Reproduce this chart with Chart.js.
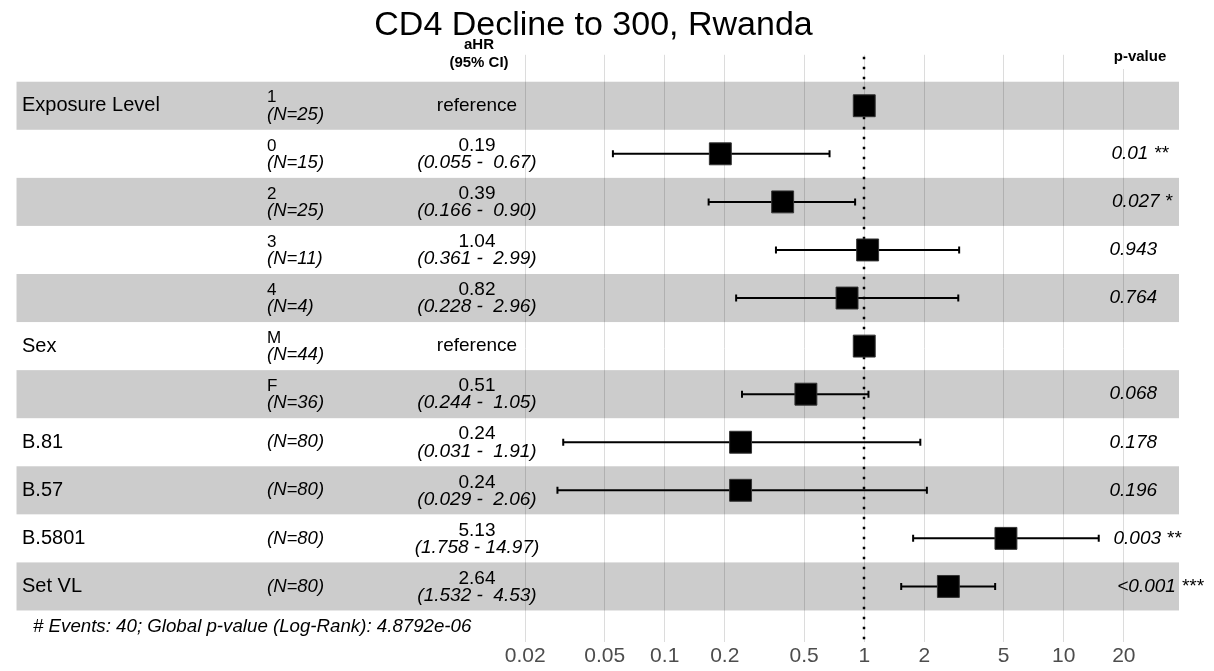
<!DOCTYPE html>
<html>
<head>
<meta charset="utf-8">
<title>CD4 Decline to 300, Rwanda</title>
<script src="https://cdn.jsdelivr.net/npm/chart.js@4.4.1/dist/chart.umd.min.js"></script>
<style>
  html, body { margin: 0; padding: 0; background: #fff; }
</style>
</head>
<body>
<canvas id="forest" width="1214" height="671"></canvas>
<script>
// rows of the forest plot, top to bottom
const variables = ["Exposure Level", "", "", "", "", "Sex", "", "B.81", "B.57", "B.5801", "Set VL"];
const levels = ["1", "0", "2", "3", "4", "M", "F", "", "", "", ""];
const counts = [25, 15, 25, 11, 4, 44, 36, 80, 80, 80, 80];
const hazardRatios = [1, 0.19, 0.39, 1.04, 0.82, 1, 0.51, 0.24, 0.24, 5.13, 2.64];
const ciLower = [null, 0.055, 0.166, 0.361, 0.228, null, 0.244, 0.031, 0.029, 1.758, 1.532];
const ciUpper = [null, 0.67, 0.90, 2.99, 2.96, null, 1.05, 1.91, 2.06, 14.97, 4.53];
const ciLabels = ["", "(0.055 -  0.67)", "(0.166 -  0.90)", "(0.361 -  2.99)", "(0.228 -  2.96)", "",
                  "(0.244 -  1.05)", "(0.031 -  1.91)", "(0.029 -  2.06)", "(1.758 - 14.97)", "(1.532 -  4.53)"];
const pValues = ["", "0.01 **", "0.027 *", "0.943", "0.764", "", "0.068", "0.178", "0.196", "0.003 **", "<0.001 ***"];
const tickValues = [0.02, 0.05, 0.1, 0.2, 0.5, 1, 2, 5, 10, 20];
const footnote = "# Events: 40; Global p-value (Log-Rank): 4.8792e-06";

const FONT = "'Liberation Sans', Arial, Helvetica, sans-serif";
const NARROW = "'Liberation Sans Narrow', 'Arial Narrow', 'Liberation Sans', sans-serif";
Chart.defaults.font.family = FONT;

// text columns (canvas pixels)
const colVar = 22;
const colLevel = 267;
const colEstimate = 477;
const colP = 1100;

const nRows = variables.length;

const forestPlugin = {
    id: 'forest',
    beforeDatasetsDraw(chart) {
        const { ctx, chartArea: a, scales: { x, y } } = chart;
        ctx.save();

        // alternating grey bands (semi transparent, grid shows through)
        ctx.fillStyle = 'rgba(0,0,0,0.2)';
        for (let i = 0; i < nRows; i += 2) {
            const top = y.getPixelForValue(i - 0.5);
            const bot = y.getPixelForValue(i + 0.5);
            ctx.fillRect(a.left, top, a.right - a.left, bot - top);
        }

        // dotted line at HR = 1
        const x1 = Math.round(x.getPixelForValue(1));
        ctx.strokeStyle = '#000';
        ctx.lineWidth = 2.5;
        ctx.setLineDash([2.5, 7.5]);
        ctx.beginPath();
        ctx.moveTo(x1, a.top + 2);
        ctx.lineTo(x1, a.bottom);
        ctx.stroke();
        ctx.setLineDash([]);

        // confidence interval bars
        ctx.lineWidth = 2;
        for (let i = 0; i < nRows; i++) {
            if (ciLower[i] === null) continue;
            const lo = x.getPixelForValue(ciLower[i]);
            const hi = x.getPixelForValue(ciUpper[i]);
            const yc = y.getPixelForValue(i);
            ctx.beginPath();
            ctx.moveTo(lo, yc);
            ctx.lineTo(hi, yc);
            ctx.moveTo(lo, yc - 3.5);
            ctx.lineTo(lo, yc + 3.5);
            ctx.moveTo(hi, yc - 3.5);
            ctx.lineTo(hi, yc + 3.5);
            ctx.stroke();
        }
        ctx.restore();
    },
    afterDraw(chart) {
        const { ctx, scales: { y } } = chart;
        ctx.save();
        ctx.fillStyle = '#000';
        ctx.textBaseline = 'middle';

        // headers
        ctx.font = 'bold 15px ' + FONT;
        ctx.textAlign = 'center';
        ctx.fillText('aHR', colEstimate + 2, 45);
        ctx.fillText('(95% CI)', colEstimate + 2, 63);
        const pw = ctx.measureText('p-value').width;
        ctx.fillStyle = '#fff';
        ctx.fillRect(1140 - pw / 2 - 2, 56, pw + 4, 13);
        ctx.fillStyle = '#000';
        ctx.fillText('p-value', 1140, 57);

        for (let i = 0; i < nRows; i++) {
            const yc = y.getPixelForValue(i);

            ctx.textAlign = 'left';
            ctx.font = '20px ' + FONT;
            if (variables[i]) ctx.fillText(variables[i], colVar, yc);

            const nText = '(N=' + counts[i] + ')';
            if (levels[i]) {
                ctx.font = '17px ' + FONT;
                ctx.fillText(levels[i], colLevel, yc - 8);
                ctx.font = 'italic 18.5px ' + FONT;
                ctx.fillText(nText, colLevel, yc + 9);
            } else {
                ctx.font = 'italic 18.5px ' + FONT;
                ctx.fillText(nText, colLevel, yc);
            }

            ctx.textAlign = 'center';
            if (ciLower[i] === null) {
                ctx.font = '19px ' + FONT;
                ctx.fillText('reference', colEstimate, yc);
            } else {
                ctx.font = '19px ' + FONT;
                ctx.fillText(hazardRatios[i].toFixed(2), colEstimate, yc - 8);
                ctx.font = 'italic 19px ' + FONT;
                ctx.fillText(ciLabels[i], colEstimate, yc + 9);
            }

            if (pValues[i]) {
                ctx.textAlign = 'left';
                ctx.font = 'italic 19px ' + FONT;
                const w = ctx.measureText(pValues[i]).width;
                ctx.fillText(pValues[i], colP + 0.2 * w, yc);
            }
        }

        ctx.textAlign = 'left';
        ctx.font = 'italic 18.7px ' + FONT;
        ctx.fillText(footnote, 33, 627);
        ctx.restore();
    }
};

new Chart(document.getElementById('forest'), {
    type: 'scatter',
    data: {
        datasets: [{
            data: hazardRatios.map((hr, i) => ({ x: hr, y: i })),
            pointStyle: 'rect',
            pointRadius: 15.5,
            backgroundColor: '#000',
            borderColor: '#333',
            borderWidth: 1
        }]
    },
    options: {
        responsive: false,
        animation: false,
        events: [],
        layout: { padding: { left: 8, right: 35, top: 0, bottom: 0 } },
        plugins: {
            legend: { display: false },
            tooltip: { enabled: false },
            title: {
                display: true,
                text: 'CD4 Decline to 300, Rwanda',
                color: '#000',
                font: { size: 34, weight: 'normal', lineHeight: 1.2 },
                padding: { top: 5, bottom: 9 }
            }
        },
        scales: {
            x: {
                type: 'logarithmic',
                min: 5.64e-5,
                max: 37.8,
                bounds: 'data',
                afterBuildTicks: (axis) => {
                    axis.ticks = tickValues.map(v => ({ value: v }));
                },
                ticks: {
                    autoSkip: false,
                    maxRotation: 0,
                    padding: 6,
                    color: '#4d4d4d',
                    font: { family: NARROW, size: 21, lineHeight: 0.8 },
                    callback: (v) => String(v)
                },
                grid: { color: '#dcdcdc', lineWidth: 1, drawTicks: false },
                border: { display: false }
            },
            y: {
                type: 'linear',
                reverse: true,
                min: -1.06,
                max: 11.16,
                display: false
            }
        }
    },
    plugins: [forestPlugin]
});
</script>
</body>
</html>
